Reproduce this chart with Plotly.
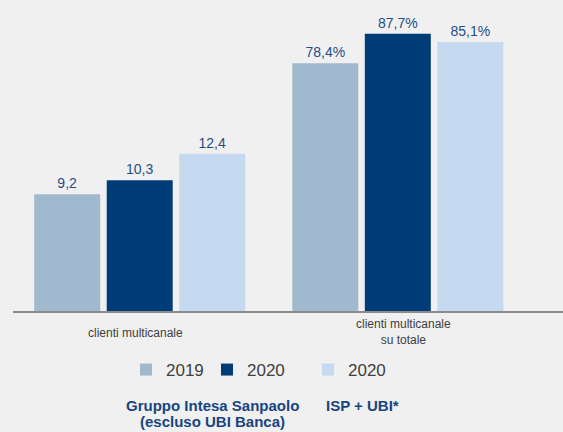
import plotly.graph_objects as go

categories = ["clienti multicanale", "clienti multicanale<br>su totale"]
series_names = ["2019", "2020", "2020"]
clients_mln = [9.2, 10.3, 12.4]          # left group (millions)
clients_share = [78.4, 87.7, 85.1]       # right group (%)
colors = ["#a0b9cf", "#003d78", "#c5d9f1"]
legend_ids = ["legend", "legend2", "legend3"]
group_titles = ["Gruppo Intesa Sanpaolo", "(escluso UBI Banca)", "ISP + UBI*"]

FONT = "Liberation Sans, Arial, sans-serif"
LABEL_COLOR = "#1f4e85"

fig = go.Figure()
for i, name in enumerate(series_names):
    fig.add_trace(go.Bar(
        x=[categories[0]], y=[clients_mln[i]], name=name,
        marker=dict(color=colors[i], line=dict(width=0)),
        texttemplate="%{y:.1f}", textposition="outside", cliponaxis=False,
        textfont=dict(size=14, color=LABEL_COLOR, family=FONT),
        legend=legend_ids[i], showlegend=True, yaxis="y",
    ))
for i, name in enumerate(series_names):
    fig.add_trace(go.Bar(
        x=[categories[1]], y=[clients_share[i]], name=name,
        marker=dict(color=colors[i], line=dict(width=0)),
        texttemplate="%{y:.1f}%", textposition="outside", cliponaxis=False,
        textfont=dict(size=14, color=LABEL_COLOR, family=FONT),
        showlegend=False, yaxis="y2",
    ))

H = 301.0
legend_common = dict(orientation="h", yanchor="middle", y=-0.196, xanchor="left",
                     font=dict(size=17, color="#404040", family=FONT),
                     bgcolor="rgba(0,0,0,0)")

fig.update_layout(
    width=563, height=432,
    margin=dict(l=13, r=0, t=10, b=121),
    paper_bgcolor="#f0f0f0", plot_bgcolor="#f0f0f0",
    separators=",.",
    barmode="group", bargap=0.157, bargroupgap=0.09,
    font=dict(family=FONT, color="#404040"),
    xaxis=dict(type="category", categoryorder="array", categoryarray=categories,
               range=[-0.491, 1.640], showline=True, linecolor="#8c8c8c", linewidth=2,
               showticklabels=False, ticks="", showgrid=False, zeroline=False),
    yaxis=dict(range=[0, H / 12.69], visible=False, showgrid=False, zeroline=False),
    yaxis2=dict(range=[0, H / 3.16], overlaying="y", visible=False,
                showgrid=False, zeroline=False),
    legend=dict(legend_common, x=(126 - 13) / 550),
    legend2=dict(legend_common, x=(207 - 13) / 550),
    legend3=dict(legend_common, x=(308 - 13) / 550),
    hovermode=False,
)

# category labels
fig.add_annotation(x=categories[0], xref="x", y=-0.072, yref="paper", yanchor="middle",
                   text=categories[0], showarrow=False, xshift=-4,
                   font=dict(size=12, color="#404040", family=FONT))
fig.add_annotation(x=categories[1], xref="x", y=-0.07, yref="paper", yanchor="middle",
                   text=categories[1], showarrow=False, xshift=6,
                   font=dict(size=12, color="#404040", family=FONT))

# group titles under the legend
title_font = dict(size=15, color="#17457f", family=FONT)
fig.add_annotation(x=(212.5 - 13) / 550, xref="paper", y=-0.313, yref="paper",
                   yanchor="middle", text="<b>%s</b>" % group_titles[0],
                   showarrow=False, font=title_font)
fig.add_annotation(x=(212.5 - 13) / 550, xref="paper", y=-0.366, yref="paper",
                   yanchor="middle", text="<b>%s</b>" % group_titles[1],
                   showarrow=False, font=title_font)
fig.add_annotation(x=(362 - 13) / 550, xref="paper", y=-0.313, yref="paper",
                   yanchor="middle", text="<b>%s</b>" % group_titles[2],
                   showarrow=False, font=title_font)

fig.write_html("out.html", config={"displayModeBar": False},
               post_script="document.body.style.margin='0';document.body.style.overflow='hidden';")
